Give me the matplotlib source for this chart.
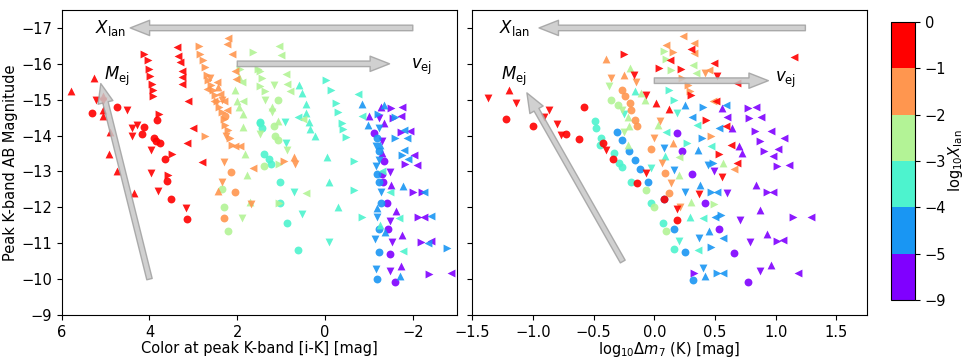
import numpy as np
import matplotlib
matplotlib.use("Agg")
import matplotlib.pyplot as plt
from matplotlib.colors import ListedColormap, BoundaryNorm

# log10 X_lan bins and the representative value of each group
xlan_bounds = [-9, -5, -4, -3, -2, -1, 0]
xlan_ticks = [-9, -5, -4, -3, -2, -1, 0]
group_levels = {"purple": -7, "blue": -4.5, "turq": -3.5, "green": -2.5, "orange": -1.5, "red": -0.5}

# left panel: (color i-K, peak K mag, marker)
left_red = [
    (5.8, -15.25, '^'), (5.26, -15.6, '^'), (5.22, -15.0, 'v'), (5.07, -15.1, '^'), (5.05, -14.95, 'v'),
    (5.05, -14.7, '^'), (5.05, -14.55, '^'), (5.3, -14.64, 'o'), (4.75, -14.8, 'o'), (4.52, -14.7, 'v'),
    (4.9, -14.1, '^'), (4.92, -13.5, '^'), (4.73, -13.0, '^'), (4.35, -12.4, '^'), (4.4, -14.2, 'v'),
    (4.4, -14.0, 'v'), (4.28, -14.3, 'v'), (4.12, -14.25, 'o'), (4.16, -14.05, 'o'), (3.9, -13.93, 'o'),
    (3.84, -14.44, 'o'), (3.78, -14.6, '>'), (3.77, -13.8, 'o'), (3.85, -13.85, 'o'), (3.96, -13.6, 'v'),
    (3.64, -13.36, 'o'), (3.49, -13.5, '>'), (3.97, -12.95, 'v'), (3.6, -12.73, 'o'), (3.57, -12.9, '>'),
    (3.8, -12.45, 'v'), (3.5, -12.24, 'o'), (3.17, -11.97, 'v'), (3.15, -11.67, 'o'), (3.13, -14.97, '<'),
    (3.0, -14.2, '<'), (3.14, -13.78, '<'), (2.8, -13.25, '<'),
    (4.13, -16.26, '>'), (4.03, -16.1, '>'), (4.01, -15.85, '>'), (3.99, -15.65, '>'), (3.95, -15.43, '>'),
    (3.93, -15.27, '>'), (3.93, -15.1, '>'),
    (3.38, -16.46, '<'), (3.34, -16.21, '<'), (3.3, -16.04, '<'), (3.25, -15.79, '<'), (3.25, -15.63, '<'),
    (3.25, -15.45, '<'),
]
left_orange = [
    (2.88, -16.5, '>'), (2.2, -16.73, '<'), (2.24, -16.55, '<'), (2.12, -16.28, '<'),
    (2.86, -16.28, '>'), (2.77, -16.1, '>'), (2.73, -15.9, '>'), (2.7, -15.68, '>'), (2.66, -15.55, '>'),
    (2.6, -15.4, '>'), (2.56, -15.27, '>'), (2.5, -15.13, '>'), (2.47, -14.95, '>'), (2.41, -14.8, '>'),
    (2.35, -14.65, '>'), (2.31, -14.47, '>'), (2.27, -14.3, '>'), (2.2, -14.15, '>'), (2.16, -13.93, '>'),
    (2.12, -13.75, '>'),
    (2.05, -15.8, '<'), (2.03, -15.57, '<'), (2.7, -15.3, '<'), (2.54, -14.97, '<'), (2.39, -15.17, '<'),
    (2.31, -14.97, '<'), (2.24, -14.7, '<'), (2.47, -15.5, '<'), (2.62, -15.6, 'v'), (2.45, -15.35, '^'),
    (2.35, -15.0, 'v'), (2.28, -14.55, 'o'), (2.25, -14.0, 'v'),
    (2.73, -14.0, '>'), (2.05, -13.7, '<'), (1.93, -13.7, '<'), (2.31, -13.25, 'v'), (2.15, -12.98, 'o'),
    (2.35, -12.7, 'v'), (2.05, -12.42, 'o'), (2.45, -12.45, '^'), (2.3, -11.7, 'o'), (1.64, -13.1, '<'),
    (1.68, -12.1, 'v'), (0.93, -13.28, '>'), (0.7, -13.39, '^'), (0.68, -13.2, 'v'),
]
left_green = [
    (1.64, -16.32, '>'), (1.93, -15.86, '>'), (1.97, -15.64, '^'), (1.89, -15.5, '<'), (2.05, -15.27, '^'),
    (2.0, -14.97, '^'), (1.97, -14.8, '^'), (1.87, -14.6, '^'), (1.86, -14.25, '^'), (1.86, -14.97, '<'),
    (1.48, -15.8, '>'), (1.44, -15.6, '>'), (1.48, -15.38, '>'), (1.36, -15.24, '>'), (1.53, -15.86, '>'),
    (1.04, -16.49, '<'), (1.01, -16.25, '<'), (0.89, -15.72, '<'), (0.86, -15.45, '<'), (0.79, -15.24, '<'),
    (1.17, -15.42, 'v'), (1.36, -15.0, 'v'), (1.07, -15.0, 'o'), (1.2, -14.8, '^'), (1.2, -14.67, 'v'),
    (1.08, -14.4, '^'), (1.16, -14.27, 'o'), (1.14, -14.0, 'o'), (1.08, -13.87, 'o'), (0.51, -14.47, '<'),
    (1.48, -14.05, 'v'), (1.78, -12.9, '^'), (2.35, -12.5, 'o'), (2.3, -12.0, 'o'), (2.2, -11.35, 'o'),
    (1.9, -11.7, 'v'), (1.7, -12.15, '^'), (0.43, -12.4, '<'), (1.38, -13.15, 'o'), (1.05, -13.2, '>'),
    (0.86, -13.6, 'v'), (1.82, -13.5, '^'), (1.05, -12.12, '>'),
]
left_turq = [
    (1.49, -14.35, 'o'), (1.44, -14.2, 'o'), (1.48, -14.39, 'o'), (1.4, -13.5, 'o'), (1.28, -13.35, 'o'),
    (1.22, -13.2, 'o'), (1.02, -12.71, 'o'), (1.02, -12.12, 'o'), (0.86, -11.56, 'o'), (0.62, -10.8, 'o'),
    (0.6, -15.42, '^'), (0.53, -15.19, '^'), (0.43, -14.89, '^'), (0.43, -14.64, '^'), (0.36, -14.39, '^'),
    (0.34, -14.18, '^'), (0.24, -13.99, '^'),
    (-0.02, -15.54, '>'), (-0.14, -15.26, '>'), (-0.25, -14.91, '>'), (-0.29, -14.67, '>'), (-0.39, -14.35, '>'),
    (-0.42, -14.18, '>'), (-0.48, -13.96, '>'),
    (-0.76, -15.17, '<'), (-0.84, -14.55, '<'), (0.62, -14.52, '<'), (0.91, -14.39, 'v'), (0.9, -13.8, 'v'),
    (-0.04, -13.39, '^'), (-0.65, -13.28, '>'), (-0.1, -12.7, '^'), (-0.65, -12.49, '>'), (0.7, -12.42, 'v'),
    (0.53, -11.82, 'v'), (-0.29, -12.0, '^'), (-0.84, -11.73, '>'), (-0.08, -11.04, 'v'),
    (-1.47, -12.42, '<'), (-1.68, -11.7, '<'), (-1.26, -11.51, '^'), (-1.77, -10.79, '<'), (-1.3, -13.0, '<'),
]
left_blue = [
    (-0.85, -14.88, '^'), (-1.6, -14.53, '>'), (-0.99, -14.3, '^'), (-1.22, -14.21, 'v'), (-1.79, -14.16, '<'),
    (-1.18, -13.93, 'o'), (-1.26, -13.74, '^'), (-1.6, -13.93, '>'), (-1.87, -13.93, '<'), (-1.15, -13.7, 'v'),
    (-1.22, -13.56, 'o'), (-1.79, -13.6, '<'), (-1.75, -13.45, '>'), (-1.9, -13.34, '<'), (-1.22, -13.31, 'v'),
    (-1.15, -13.14, 'v'), (-1.2, -14.6, '>'), (-1.35, -14.85, '^'),
    (-1.18, -12.93, 'o'), (-1.24, -12.70, 'o'), (-1.27, -12.42, 'v'), (-1.78, -12.6, '^'), (-2.25, -12.42, '<'),
    (-1.27, -12.12, 'o'), (-1.18, -11.98, '^'), (-1.18, -11.74, 'v'), (-1.24, -11.4, 'o'), (-1.37, -11.32, '^'),
    (-2.42, -11.77, '<'), (-1.13, -11.12, 'v'), (-2.35, -11.0, '<'), (-2.78, -10.86, '>'), (-1.22, -10.75, 'o'),
    (-1.16, -10.28, 'v'), (-1.71, -10.1, '^'), (-1.18, -10.0, 'o'),
]
left_purple = [
    (-1.27, -14.81, '^'), (-1.5, -14.77, '>'), (-1.75, -14.81, '<'), (-1.72, -14.55, '<'), (-1.22, -14.49, 'v'),
    (-1.34, -14.35, '^'), (-1.93, -14.14, '<'), (-1.72, -14.09, '>'), (-1.11, -14.07, 'o'), (-1.3, -13.84, 'v'),
    (-2.02, -13.47, '<'), (-1.3, -13.51, '^'), (-1.34, -13.28, 'o'), (-1.83, -13.21, '>'), (-2.1, -13.19, '<'),
    (-1.3, -12.93, 'o'), (-1.49, -12.98, 'v'), (-1.33, -12.7, 'o'), (-1.51, -12.63, '^'), (-2.0, -12.44, '>'),
    (-2.21, -12.42, '>'), (-1.42, -12.12, 'o'), (-1.62, -11.91, '^'), (-1.49, -11.63, 'v'), (-1.43, -11.39, 'o'),
    (-1.75, -11.23, '^'), (-2.11, -11.74, '>'), (-2.25, -11.74, '<'), (-1.53, -11.03, 'v'), (-2.19, -11.04, '>'),
    (-2.42, -11.07, '<'), (-1.47, -10.7, 'o'), (-1.49, -10.23, 'v'), (-1.72, -10.37, '^'), (-1.59, -9.91, 'o'),
    (-2.36, -10.14, '>'), (-2.86, -10.16, '<'), (-1.0, -14.55, '^'), (-1.55, -14.5, '>'),
]

# right panel: (log10 dm7 K, peak K mag, marker)
right_red = [
    (-1.37, -15.05, 'v'), (-1.2, -15.28, '^'), (-1.14, -14.9, 'v'), (-1.22, -14.46, 'o'), (-0.87, -14.72, 'v'),
    (-0.91, -14.53, 'v'), (-1.0, -14.26, 'o'), (-0.8, -14.33, 'v'), (-0.77, -14.02, 'v'), (-0.73, -14.04, 'o'),
    (-0.58, -14.8, 'o'), (-0.62, -13.91, 'o'), (-0.42, -13.79, 'o'), (-0.40, -13.6, 'v'), (-0.34, -13.35, 'o'),
    (-0.07, -12.95, 'v'), (-0.14, -12.69, 'o'), (0.08, -12.23, 'o'), (0.19, -11.95, 'v'), (0.19, -11.65, 'o'),
    (0.37, -12.37, 'v'),
    (-0.25, -16.27, '>'), (0.04, -15.87, '>'), (-0.17, -15.7, 'v'), (0.01, -14.9, '^'), (0.12, -14.74, '^'),
    (-0.07, -15.14, 'v'), (0.22, -15.86, '>'), (0.13, -16.12, '<'), (0.3, -16.4, '<'), (0.3, -15.12, '>'),
    (0.49, -16.02, '<'), (0.52, -15.65, 'v'), (0.68, -15.47, '<'), (0.51, -14.95, '<'), (1.15, -16.2, '<'),
    (0.59, -14.26, '<'), (0.63, -13.74, '<'), (0.53, -13.5, '>'), (0.68, -13.23, '<'), (0.56, -12.85, 'v'),
    (0.43, -14.44, '>'),
]
right_orange = [
    (-0.4, -16.13, '^'), (-0.36, -15.6, 'v'), (-0.25, -15.7, '^'), (-0.27, -15.28, 'o'), (-0.24, -15.11, 'o'),
    (-0.2, -14.9, 'o'), (-0.19, -14.72, 'o'), (-0.16, -14.44, 'o'), (-0.14, -14.26, 'o'),
    (0.24, -16.77, '<'), (0.1, -16.53, '<'), (0.15, -16.32, '>'), (0.33, -16.58, '<'), (0.33, -16.3, '<'),
    (0.23, -15.6, '>'), (0.28, -15.42, '>'), (0.29, -15.23, '>'), (0.42, -15.74, 'v'), (0.45, -15.84, '<'),
    (0.48, -14.95, '<'), (0.47, -14.0, '>'), (0.0, -13.93, 'v'), (-0.03, -13.62, 'o'), (0.15, -13.79, '^'),
    (0.06, -13.23, 'v'), (0.09, -12.95, 'o'), (0.14, -12.67, 'v'), (0.12, -12.4, 'o'), (0.21, -12.02, 'v'),
    (0.66, -13.06, '<'), (-0.15, -15.5, 'v'), (0.05, -14.4, 'v'),
]
right_green = [
    (-0.36, -15.0, 'o'), (-0.37, -15.39, 'v'), (-0.2, -15.88, '^'), (-0.27, -14.72, 'v'), (-0.22, -14.53, '^'),
    (-0.21, -14.26, '^'), (-0.22, -13.74, '^'), (-0.11, -15.19, '^'), (-0.08, -15.0, '^'), (0.08, -16.35, '>'),
    (0.1, -16.13, '>'), (0.14, -15.84, '>'), (0.32, -15.98, '<'), (0.34, -15.74, '<'), (0.03, -14.3, '^'),
    (0.2, -12.9, '^'), (0.3, -12.16, '^'), (0.49, -12.1, '>'), (-0.07, -12.49, 'o'), (0.0, -12.0, 'o'),
    (0.1, -11.33, 'o'), (0.57, -13.23, '^'), (-0.3, -14.85, 'o'), (-0.25, -14.1, 'v'), (0.2, -13.4, '<'),
]
right_turq = [
    (-0.49, -14.4, 'o'), (-0.48, -14.2, 'o'), (-0.44, -13.93, 'o'), (-0.45, -13.74, 'o'), (-0.33, -13.51, 'o'),
    (-0.29, -13.23, 'o'), (-0.27, -13.12, 'o'), (-0.19, -12.72, 'o'), (-0.03, -12.13, 'o'), (0.07, -11.56, 'o'),
    (0.16, -10.83, 'o'),
    (-0.16, -15.23, '^'), (0.12, -15.28, '>'), (0.16, -15.0, '>'), (0.19, -14.63, 'v'), (-0.03, -13.09, 'v'),
    (0.09, -13.42, '^'), (0.2, -11.05, 'v'), (0.36, -10.81, '<'), (0.4, -11.7, '<'), (0.29, -11.74, '^'),
    (0.47, -13.7, '<'), (0.27, -13.79, '>'), (-0.25, -14.6, 'v'), (0.1, -14.1, '<'), (0.35, -14.3, '<'),
]
right_blue = [
    (-0.31, -14.1, 'o'), (-0.27, -13.87, 'o'), (-0.21, -13.56, 'o'), (-0.16, -13.33, 'o'), (-0.12, -13.07, 'o'),
    (-0.05, -12.72, 'o'), (0.08, -12.24, 'o'), (0.16, -11.41, 'o'), (0.25, -10.75, 'o'), (0.32, -9.98, 'o'),
    (0.08, -13.65, 'v'), (0.16, -13.05, 'v'), (0.25, -14.86, '^'), (0.4, -14.81, '>'), (0.59, -14.86, '<'),
    (0.25, -12.44, 'v'), (0.38, -12.63, '^'), (0.47, -12.44, '>'), (0.52, -12.42, '<'), (0.31, -14.53, '<'),
    (0.36, -13.6, '^'), (0.44, -13.18, 'v'), (0.55, -11.79, '>'), (0.5, -11.74, '<'), (0.45, -11.33, '^'),
    (0.57, -11.14, '<'), (0.37, -11.14, 'v'), (0.47, -10.89, '>'), (0.4, -10.3, 'v'), (0.42, -10.1, '^'),
    (0.52, -10.16, '>'), (0.57, -10.16, '<'), (0.39, -13.93, '>'), (0.53, -14.2, '<'), (0.48, -13.23, '>'),
]
right_purple = [
    (0.77, -14.77, '>'), (0.84, -14.81, '<'), (0.78, -14.49, '>'), (0.88, -14.53, '<'), (0.83, -14.12, '>'),
    (0.96, -14.12, '<'), (1.07, -13.93, '<'), (0.87, -13.84, '>'), (1.02, -13.62, '<'), (0.9, -13.56, '>'),
    (0.98, -13.42, '<'), (1.11, -13.19, '<'), (1.01, -13.16, '>'), (0.84, -12.63, '^'), (0.93, -12.44, '>'),
    (0.98, -12.42, '<'), (0.87, -11.93, '^'), (0.71, -11.65, 'v'), (1.14, -11.74, '>'), (1.29, -11.73, '<'),
    (0.93, -11.25, '^'), (1.01, -11.07, '>'), (1.06, -11.1, '<'), (0.79, -11.03, 'v'), (0.96, -10.4, '^'),
    (0.87, -10.23, 'v'), (1.18, -10.16, '<'), (0.77, -9.93, 'o'), (0.66, -10.72, 'o'), (0.53, -11.4, 'o'),
    (0.42, -12.13, 'o'), (0.31, -12.93, 'o'), (0.23, -13.56, 'o'), (0.19, -14.07, 'o'), (0.56, -14.77, '^'),
    (0.6, -14.53, '<'), (0.64, -14.2, '^'), (0.7, -13.7, '^'), (0.72, -13.51, '^'), (0.49, -13.0, 'v'),
    (0.6, -12.4, 'v'), (0.33, -10.16, '>'),
]

left_groups = {"purple": left_purple, "blue": left_blue, "turq": left_turq,
               "green": left_green, "orange": left_orange, "red": left_red}
right_groups = {"purple": right_purple, "blue": right_blue, "turq": right_turq,
                "green": right_green, "orange": right_orange, "red": right_red}

cmap = ListedColormap(plt.cm.rainbow(np.linspace(0, 1, 6)))
norm = BoundaryNorm(xlan_bounds, cmap.N)

fig = plt.figure(figsize=(9.69, 3.63), dpi=100)
ax1 = fig.add_axes([0.0637, 0.1322, 0.4076, 0.8403])
ax2 = fig.add_axes([0.4874, 0.1322, 0.4070, 0.8403])
cax = fig.add_axes([0.9195, 0.1736, 0.0248, 0.7664])


def draw_points(ax, groups):
    for name, pts in groups.items():
        col = cmap(norm(group_levels[name]))
        for mk in ['o', 'v', '^', '<', '>']:
            sel = [(p[0], p[1]) for p in pts if p[2] == mk]
            if not sel:
                continue
            xs, ys = zip(*sel)
            ax.scatter(xs, ys, s=32, marker=mk, color=col, alpha=0.9, linewidths=0)


def gray_arrow(ax, tail, tip):
    ax.annotate('', xy=tip, xytext=tail,
                arrowprops=dict(facecolor='#c8c8c8', edgecolor='#a0a0a0', width=4,
                                headwidth=11, headlength=14, shrink=0, alpha=0.85),
                zorder=5)


draw_points(ax1, left_groups)
draw_points(ax2, right_groups)

# left panel arrows and labels
gray_arrow(ax1, (-2.0, -17.0), (4.44, -17.0))
gray_arrow(ax1, (2.0, -16.0), (-1.47, -16.0))
gray_arrow(ax1, (4.0, -10.0), (5.11, -15.45))
ax1.text(4.9, -17.0, r'$X_{\rm lan}$', fontsize=12, ha='center', va='center')
ax1.text(-2.2, -15.9, r'$v_{\rm ej}$', fontsize=12, ha='center', va='center')
ax1.text(4.75, -15.65, r'$M_{\rm ej}$', fontsize=12, ha='center', va='center')

# right panel arrows and labels
gray_arrow(ax2, (1.245, -17.0), (-0.95, -17.0))
gray_arrow(ax2, (0.0, -15.53), (0.94, -15.53))
gray_arrow(ax2, (-0.26, -10.49), (-1.05, -15.19))
ax2.text(-1.15, -17.0, r'$X_{\rm lan}$', fontsize=12, ha='center', va='center')
ax2.text(1.08, -15.55, r'$v_{\rm ej}$', fontsize=12, ha='center', va='center')
ax2.text(-1.16, -15.65, r'$M_{\rm ej}$', fontsize=12, ha='center', va='center')

ax1.set_xlim(6, -3)
ax1.set_ylim(-9, -17.5)
ax1.set_xticks([6, 4, 2, 0, -2])
ax1.set_yticks(np.arange(-17, -8, 1))
ax1.set_xlabel('Color at peak K-band [i-K] [mag]', fontsize=10.5, labelpad=1)
ax1.set_ylabel('Peak K-band AB Magnitude', fontsize=10.5, labelpad=2)

ax2.set_xlim(-1.5, 1.75)
ax2.set_ylim(-9, -17.5)
ax2.set_xticks([-1.5, -1.0, -0.5, 0.0, 0.5, 1.0, 1.5])
ax2.set_yticks(np.arange(-17, -8, 1))
ax2.tick_params(labelleft=False)
ax2.set_xlabel(r'log$_{10}\Delta m_7$ (K) [mag]', fontsize=10.5, labelpad=0)

for ax in (ax1, ax2):
    ax.tick_params(labelsize=10.5)

sm = plt.cm.ScalarMappable(cmap=cmap, norm=norm)
cb = fig.colorbar(sm, cax=cax, boundaries=xlan_bounds, ticks=xlan_ticks)
cb.ax.tick_params(labelsize=10.5)
cb.set_label(r'log$_{10}X_{\rm lan}$', fontsize=10.5, labelpad=0)

fig.savefig('out.png', dpi=100)
